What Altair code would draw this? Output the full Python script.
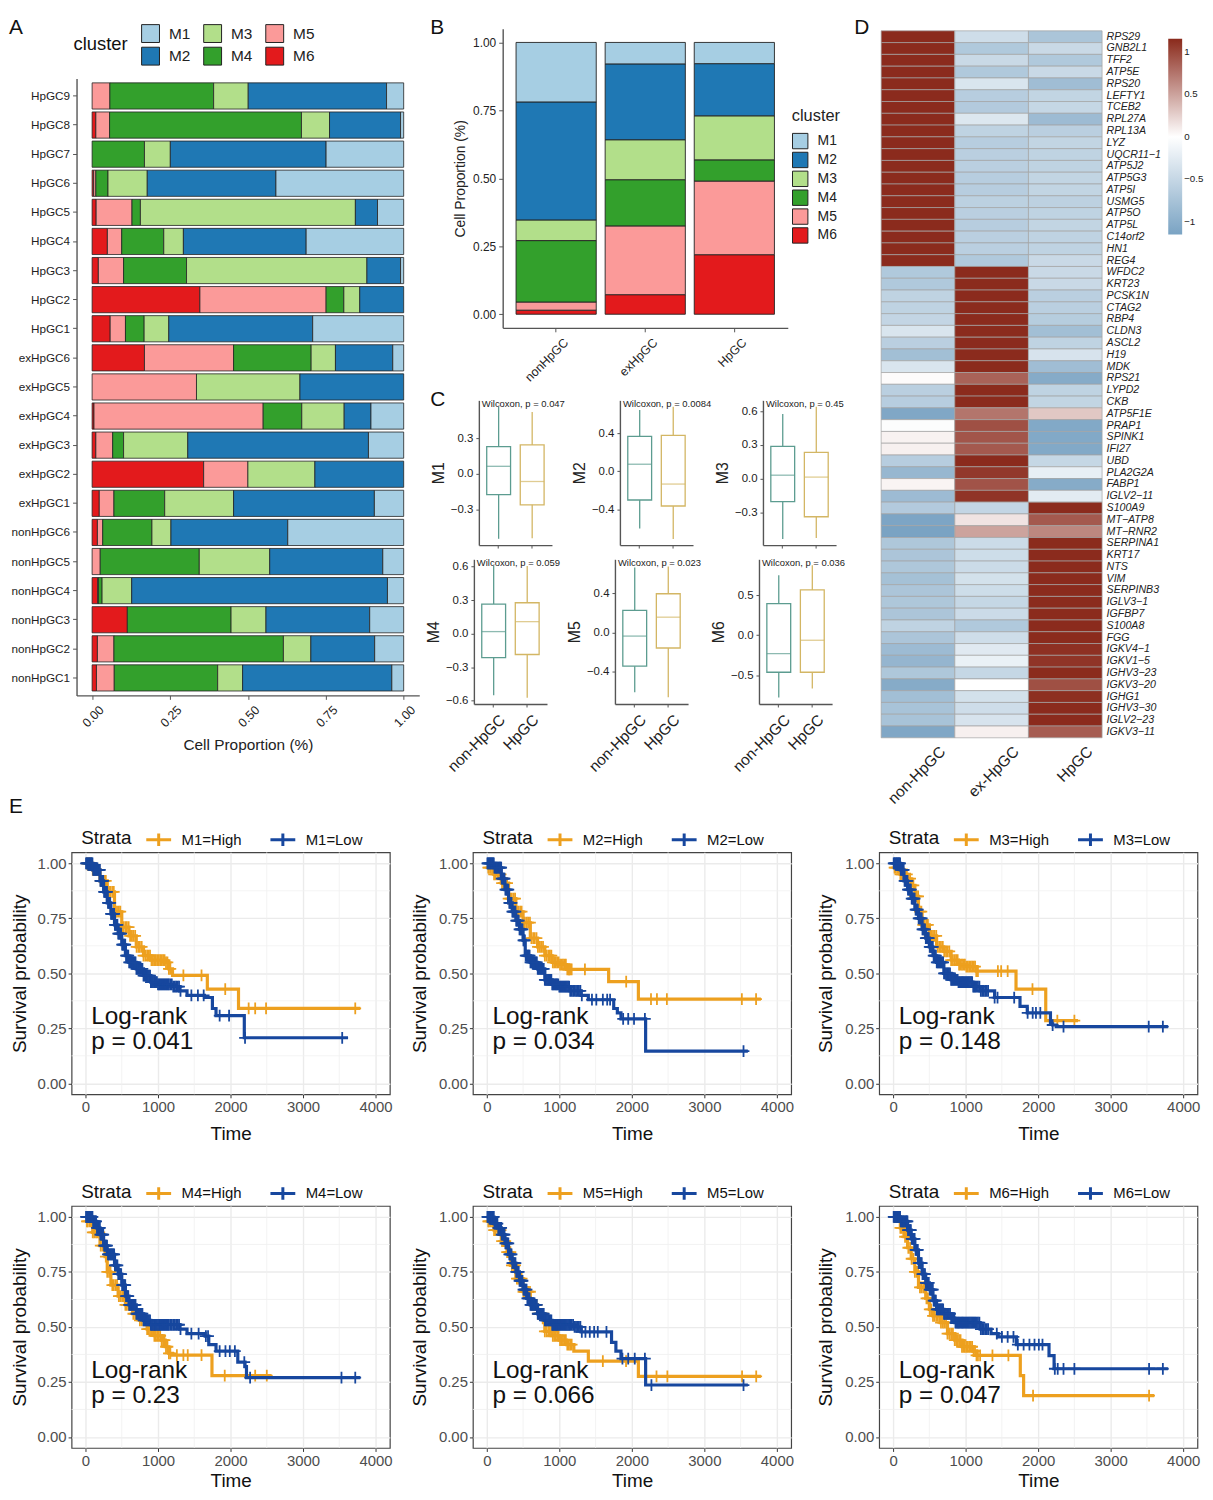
import altair as alt
import pandas as pd

FONT = "Liberation Sans"
CLUSTERS = ["M1", "M2", "M3", "M4", "M5", "M6"]
CLUSTER_COLORS = ["#A6CEE3", "#1F78B4", "#B2DF8A", "#33A02C", "#FB9A99", "#E31A1C"]
STACK_ORDER = ["M6", "M5", "M4", "M3", "M2", "M1"]

# ---------- Panel A: per-sample proportions, listed M6, M5, M4, M3, M2, M1
SAMPLES = ["HpGC9", "HpGC8", "HpGC7", "HpGC6", "HpGC5", "HpGC4", "HpGC3", "HpGC2", "HpGC1",
           "exHpGC6", "exHpGC5", "exHpGC4", "exHpGC3", "exHpGC2", "exHpGC1",
           "nonHpGC6", "nonHpGC5", "nonHpGC4", "nonHpGC3", "nonHpGC2", "nonHpGC1"]
SAMPLE_VALUES = [
    [0, .057, .333, .111, .444, .055],
    [.012, .044, .616, .090, .228, .010],
    [0, 0, .168, .083, .500, .249],
    [.005, .007, .039, .126, .413, .410],
    [.013, .115, .027, .690, .071, .084],
    [.049, .046, .135, .063, .394, .313],
    [.020, .081, .202, .579, .108, .010],
    [.346, .405, .057, .051, .141, 0],
    [.058, .049, .060, .079, .462, .292],
    [.168, .286, .249, .078, .184, .035],
    [0, .335, 0, .332, .333, 0],
    [.006, .543, .124, .136, .086, .105],
    [.012, .054, .035, .206, .580, .113],
    [.358, .142, 0, .215, .285, 0],
    [.023, .047, .163, .221, .452, .094],
    [.017, .017, .158, .061, .375, .372],
    [0, .026, .318, .226, .363, .067],
    [.018, .002, .012, .095, .821, .052],
    [.113, 0, .333, .112, .333, .109],
    [.017, .053, .544, .088, .205, .093],
    [.014, .057, .332, .080, .479, .038],
]

# ---------- Panel B
GROUPS_B = ["nonHpGC", "exHpGC", "HpGC"]
GROUP_VALUES = [
    [.015, .030, .226, .076, .434, .219],
    [.072, .253, .170, .147, .279, .079],
    [.219, .271, .078, .162, .192, .078],
]

# ---------- Panel C: [low, q1, median, q3, high] for non-HpGC and HpGC
BOX_GROUPS = ["non-HpGC", "HpGC"]
BOX_COLORS = ["#5C9C90", "#D3B664"]
BOX_STATS = {
    "M1": [[-.547, -.175, .064, .230, .564], [-.542, -.261, -.064, .244, .522]],
    "M2": [[-.600, -.302, .073, .365, .642], [-.712, -.365, -.135, .375, .677]],
    "M3": [[-.538, -.206, .029, .285, .574], [-.529, -.341, .012, .232, .638]],
    "M4": [[-.552, -.214, .018, .264, .605], [-.573, -.187, .107, .276, .605]],
    "M5": [[-.608, -.343, -.037, .225, .659], [-.659, -.158, .155, .393, .669]],
    "M6": [[-.779, -.4625, -.229, .396, .750], [-.667, -.4625, -.0625, .567, .875]],
}
BOX_P = {"M1": "0.047", "M2": "0.0084", "M3": "0.45", "M4": "0.059", "M5": "0.023", "M6": "0.036"}
BOX_DOMAIN = {"M1": [-.60, .62], "M2": [-.775, .743], "M3": [-.593, .695],
              "M4": [-.63, .665], "M5": [-.727, .743], "M6": [-.86, .95]}
BOX_TICKS = {"M1": [-.3, 0, .3], "M2": [-.4, 0, .4], "M3": [-.3, 0, .3, .6],
             "M4": [-.6, -.3, 0, .3, .6], "M5": [-.4, 0, .4], "M6": [-.5, 0, .5]}

# ---------- Panel D
HEAT_GROUPS = ["non-HpGC", "ex-HpGC", "HpGC"]
GENES = ["RPS29", "GNB2L1", "TFF2", "ATP5E", "RPS20", "LEFTY1", "TCEB2", "RPL27A", "RPL13A", "LYZ",
         "UQCR11−1", "ATP5J2", "ATP5G3", "ATP5I", "USMG5", "ATP5O", "ATP5L", "C14orf2", "HN1", "REG4",
         "WFDC2", "KRT23", "PCSK1N", "CTAG2", "RBP4", "CLDN3", "ASCL2", "H19", "MDK", "RPS21",
         "LYPD2", "CKB", "ATP5F1E", "PRAP1", "SPINK1", "IFI27", "UBD", "PLA2G2A", "FABP1", "IGLV2−11",
         "S100A9", "MT−ATP8", "MT−RNR2", "SERPINA1", "KRT17", "NTS", "VIM", "SERPINB3", "IGLV3−1", "IGFBP7",
         "S100A8", "FGG", "IGKV4−1", "IGKV1−5", "IGHV3−23", "IGKV3−20", "IGHG1", "IGHV3−30", "IGLV2−23", "IGKV3−11"]
HEAT_NON = [1.15] * 20 + [-.68, -.68, -.55, -.55, -.52, -.33, -.60, -.80, -.33, .02,
                          -.60, -.62, -1.10, -.03, .07, .08, -.62, -.90, .06, -.85,
                          -.66, -1.12, -1.15, -.70, -.72, -.70, -.78, -.72, -.70, -.72,
                          -.55, -.72, -.85, -.92, -.70, -1.05, -.80, -.75, -.75, -1.10]
HEAT_EX = [-.42, -.68, -.47, -.68, -.33, -.62, -.66, -.30, -.55, -.62,
           -.60, -.60, -.62, -.62, -.58, -.60, -.62, -.60, -.60, -.68,
           1.15, 1.15, 1.15, 1.15, 1.15, 1.15, 1.15, 1.15, 1.15, .85,
           1.15, 1.15, .75, .95, .92, .90, 1.15, 1.08, .93, 1.10,
           -.52, .15, .50, -.45, -.43, -.45, -.38, -.43, -.50, -.45,
           -.68, -.42, -.27, -.18, -.50, 0, -.38, -.42, -.35, .08]
HEAT_HP = [-.73, -.47, -.68, -.47, -.82, -.53, -.50, -.85, -.60, -.53,
           -.55, -.55, -.53, -.53, -.57, -.55, -.53, -.55, -.55, -.47,
           -.47, -.47, -.60, -.60, -.63, -.80, -.55, -.35, -.82, -1.05,
           -.55, -.53, .30, -1.08, -1.08, -1.08, -.50, -.20, -1.05, -.25,
           1.15, .90, .65, 1.15, 1.15, 1.15, 1.15, 1.15, 1.15, 1.15,
           1.15, 1.15, 1.12, 1.10, 1.15, .95, 1.13, 1.15, 1.15, .88]

# ---------- Panel E: Kaplan-Meier knots
KM = {
    "M1": {
        "p": "0.041",
        "High": ([0, 100, 200, 300, 400, 500, 600, 700, 800, 900, 1100, 1150, 1200, 1680, 2110, 3790],
                 [1, .97, .92, .87, .78, .71, .67, .62, .58, .56, .55, .52, .491, .428, .341, .341],
                 [1350, 1600, 1927, 2250, 2340, 2490, 3720]),
        "Low": ([0, 100, 200, 250, 300, 350, 400, 450, 500, 550, 600, 700, 800, 900, 1000, 1200, 1300, 1400, 1640, 1750, 1800, 2190, 3620],
                [1, .97, .92, .87, .82, .77, .72, .68, .63, .58, .55, .52, .49, .46, .45, .44, .42, .40, .39, .34, .308, .207, .207],
                [1460, 1550, 1630, 1850, 1980, 2200, 3540]),
    },
    "M2": {
        "p": "0.034",
        "High": ([0, 100, 200, 300, 400, 500, 600, 700, 800, 900, 1000, 1100, 1680, 2090, 3780],
                 [.98, .95, .91, .84, .78, .73, .66, .62, .58, .55, .54, .518, .462, .383, .383],
                 [1134, 1353, 1922, 2264, 2346, 2483, 3517, 3713]),
        "Low": ([0, 100, 200, 250, 300, 350, 400, 450, 500, 530, 600, 700, 800, 900, 1000, 1150, 1300, 1400, 1750, 1800, 1850, 2190, 3600],
                [1, .98, .93, .88, .82, .78, .74, .70, .65, .58, .55, .52, .47, .45, .44, .42, .40, .38, .34, .32, .293, .146, .146],
                [1450, 1510, 1600, 1660, 1700, 1880, 1950, 2030, 2180, 3540]),
    },
    "M3": {
        "p": "0.148",
        "High": ([0, 100, 200, 250, 300, 350, 400, 500, 600, 700, 800, 900, 1000, 1150, 1695, 2105, 2550],
                 [.98, .95, .93, .90, .85, .78, .72, .67, .62, .60, .56, .54, .53, .51, .428, .285, .285],
                 [1150, 1445, 1490, 1580, 1922, 2265, 2500]),
        "Low": ([0, 100, 150, 200, 250, 300, 350, 400, 450, 500, 550, 600, 700, 800, 900, 1100, 1200, 1400, 1750, 1850, 2170, 2200, 2250, 3790],
                [1, .97, .92, .88, .84, .79, .75, .70, .66, .62, .58, .55, .50, .47, .46, .44, .42, .39, .35, .32, .27, .265, .258, .258],
                [1400, 1440, 1670, 1855, 1925, 1970, 2030, 2200, 2350, 3525, 3720]),
    },
    "M4": {
        "p": "0.23",
        "High": ([0, 100, 200, 270, 300, 350, 450, 550, 650, 750, 850, 950, 1050, 1100, 1150, 1200, 1744, 2566],
                 [.98, .93, .87, .82, .75, .69, .64, .60, .56, .53, .49, .46, .44, .41, .38, .372, .279, .279],
                 [1260, 1350, 1410, 1600, 1920, 2340, 2500]),
        "Low": ([0, 100, 150, 200, 250, 300, 400, 450, 500, 550, 600, 700, 800, 900, 1300, 1400, 1650, 1700, 1800, 2100, 2200, 2220, 3790],
                [1, .98, .95, .92, .87, .83, .78, .74, .69, .64, .60, .56, .53, .51, .49, .47, .458, .42, .39, .34, .32, .27, .27],
                [1460, 1560, 1660, 1690, 1850, 1930, 1990, 2060, 2190, 2270, 3530, 3720]),
    },
    "M5": {
        "p": "0.066",
        "High": ([0, 100, 200, 280, 330, 400, 500, 600, 700, 780, 800, 900, 1000, 1100, 1200, 1400, 2090, 3780],
                 [.98, .94, .89, .84, .78, .72, .66, .60, .56, .52, .48, .46, .44, .42, .39, .345, .275, .275],
                 [1600, 1920, 2340, 2490, 3520, 3715]),
        "Low": ([0, 100, 150, 200, 250, 300, 350, 400, 450, 500, 550, 600, 700, 800, 900, 1200, 1300, 1720, 1780, 1850, 2190, 3600],
                [1, .97, .95, .92, .88, .83, .79, .75, .71, .67, .63, .60, .56, .53, .51, .50, .478, .43, .39, .356, .236, .236],
                [1360, 1420, 1480, 1530, 1650, 1870, 1950, 2040, 2180, 2270, 3540]),
    },
    "M6": {
        "p": "0.047",
        "High": ([0, 100, 150, 200, 250, 300, 350, 450, 500, 550, 650, 750, 850, 950, 1100, 1150, 1754, 1800, 3600],
                 [1, .95, .91, .86, .81, .75, .68, .63, .58, .55, .52, .47, .44, .41, .39, .371, .279, .188, .188],
                 [1200, 1370, 1590, 1930, 3530]),
        "Low": ([0, 100, 200, 250, 300, 350, 400, 450, 500, 550, 600, 700, 800, 850, 1200, 1350, 1450, 1700, 2150, 2220, 3790],
                [1, .98, .94, .90, .85, .79, .74, .70, .67, .62, .58, .56, .54, .52, .49, .47, .455, .42, .37, .31, .31],
                [1430, 1500, 1580, 1660, 1720, 1800, 1880, 1950, 2010, 2060, 2230, 2270, 2350, 2500, 3530, 3720]),
    },
}
CENSOR_EARLY_HIGH = [20, 30, 55, 75, 100, 120, 145, 165, 190, 210, 235, 255, 280, 300, 325, 345, 370, 390, 415, 435,
                     460, 480, 505, 525, 550, 570, 595, 615, 640, 660, 685, 705, 730, 750, 775,
                     800, 825, 850, 870, 890, 910, 930, 950, 970, 990, 1010, 1030, 1050, 1070, 1090, 1110, 1130, 1150, 1170]
CENSOR_EARLY_LOW = [8, 15, 25, 35, 44, 52, 61, 70, 79, 88, 96, 105, 116, 128, 137, 146, 158, 170, 180, 190, 198, 205,
                    216, 228, 236, 245, 256, 268, 276, 285, 297, 310, 320, 330, 341, 352, 362,
                    372, 383, 395, 405, 415, 427, 440, 451, 462, 471, 480, 492, 505, 515, 525, 536, 548, 559, 570,
                    580, 590, 602, 615, 627, 640, 652, 665, 677, 690, 702, 715, 730, 745, 757,
                    770, 785, 800, 815, 830, 845, 860, 875, 890, 902, 915, 930, 945, 957, 970, 985, 1000, 1015, 1030,
                    1045, 1060, 1075, 1090, 1105, 1120, 1135, 1150, 1170, 1190, 1210, 1230, 1250, 1270, 1290, 1310]
MINOR_T = [500, 1500, 2500, 3500]
MINOR_S = [.125, .375, .625, .875]
KM_LABEL_T = 78
KM_LABEL_S = [.30, .188]
STRATA_COLORS = ["#EDA01F", "#17479E"]

INK = "#222222"
AXIS_GREY = "#555555"


def spacer(w, h):
    return alt.Chart(pd.DataFrame({"v": [0]})).mark_point(size=0, opacity=0).encode(
        x=alt.value(0), y=alt.value(0)).properties(width=w, height=h)


def caption(s, size=21):
    return alt.Chart(pd.DataFrame({"txt": [s]})).mark_text(
        align="left", baseline="alphabetic", fontSize=size, color="#111111").encode(
        x=alt.value(0), y=alt.value(0), text="txt:N").properties(width=10, height=1)


# ---------- A
rows = []
for s, vals in zip(SAMPLES, SAMPLE_VALUES):
    for i, (cl, v) in enumerate(zip(STACK_ORDER, vals)):
        if v > 0:
            rows.append({"sample": s, "cluster": cl, "value": v, "idx": i})
panel_a = alt.Chart(pd.DataFrame(rows)).mark_bar(stroke=INK, strokeWidth=0.8).encode(
    y=alt.Y("sample:N", sort=SAMPLES, title=None,
            scale=alt.Scale(domain=SAMPLES, paddingInner=0.1, paddingOuter=0.15),
            axis=alt.Axis(labelFontSize=11.8, labelColor=INK, tickSize=4, labelPadding=3, tickColor=AXIS_GREY,
                          domainColor=AXIS_GREY, domainWidth=1.4, grid=False)),
    x=alt.X("value:Q", stack="zero", title="Cell Proportion (%)",
            scale=alt.Scale(domain=[-0.05, 1.05], nice=False, zero=False),
            axis=alt.Axis(values=[0, .25, .5, .75, 1], format=".2f", labelAngle=-45, labelFontSize=12.5, labelColor=INK,
                          labelOffset=5, labelPadding=4, tickSize=4, tickColor=AXIS_GREY, domainColor=AXIS_GREY, domainWidth=1.4,
                          grid=False, titleFontSize=15.5, titleFontWeight="normal", titleColor=INK, titlePadding=8, labelFlush=False)),
    color=alt.Color("cluster:N", scale=alt.Scale(domain=CLUSTERS, range=CLUSTER_COLORS),
                    legend=alt.Legend(symbolType="square", symbolStrokeColor=INK, symbolStrokeWidth=1, symbolOpacity=1,
                                      orient="none", title=None, legendX=65, legendY=-55, direction="vertical", columns=3,
                                      labelFontSize=15.5, labelColor=INK, labelOffset=9, symbolSize=324,
                                      columnPadding=10.5, rowPadding=0)),
    order=alt.Order("idx:Q"),
).properties(width=345, height=621)

# ---------- B
rows = []
for g, vals in zip(GROUPS_B, GROUP_VALUES):
    for i, (cl, v) in enumerate(zip(STACK_ORDER, vals)):
        rows.append({"group": g, "cluster": cl, "value": v, "idx": i})
panel_b = alt.Chart(pd.DataFrame(rows)).mark_bar(stroke=INK, strokeWidth=0.9).encode(
    x=alt.X("group:N", sort=GROUPS_B, title=None,
            scale=alt.Scale(domain=GROUPS_B, paddingInner=0.1, paddingOuter=0.15),
            axis=alt.Axis(labelAngle=-45, labelFontSize=12.5, labelColor=INK, labelOffset=6, labelPadding=4, tickSize=4,
                          tickColor=AXIS_GREY, domainColor=AXIS_GREY, domainWidth=1.4, grid=False)),
    y=alt.Y("value:Q", stack="zero", title="Cell Proportion (%)",
            scale=alt.Scale(domain=[-0.05, 1.05], nice=False, zero=False),
            axis=alt.Axis(values=[0, .25, .5, .75, 1], format=".2f", labelFontSize=12, labelColor=INK, tickSize=4, labelPadding=3,
                          tickColor=AXIS_GREY, domainColor=AXIS_GREY, domainWidth=1.4, grid=False,
                          titleFontSize=14, titleFontWeight="normal", titleColor=INK, titlePadding=5)),
    color=alt.Color("cluster:N", scale=alt.Scale(domain=CLUSTERS, range=CLUSTER_COLORS),
                    legend=alt.Legend(symbolType="square", symbolStrokeColor=INK, symbolStrokeWidth=1, symbolOpacity=1,
                                      orient="none", title="cluster", legendX=291, legendY=80, direction="vertical",
                                      titleFontSize=16.5, titleFontWeight="normal", titleColor=INK, titlePadding=8,
                                      labelFontSize=14, labelColor=INK, labelOffset=9, symbolSize=240, rowPadding=-2)),
    order=alt.Order("idx:Q"),
).properties(width=287, height=301)


# ---------- C
def box_panel(m, show_labels):
    rows = []
    for g, s in zip(BOX_GROUPS, BOX_STATS[m]):
        rows.append(dict(group=g, low=s[0], q1=s[1], med=s[2], q3=s[3], high=s[4]))
    base = alt.Chart(pd.DataFrame(rows))
    x_scale = alt.Scale(domain=BOX_GROUPS, paddingInner=0.3, paddingOuter=0.24)
    y_scale = alt.Scale(domain=BOX_DOMAIN[m], nice=False, zero=False)
    col = alt.Color("group:N", scale=alt.Scale(domain=BOX_GROUPS, range=BOX_COLORS), legend=None)
    x_axis = alt.Axis(labelAngle=-45, labelFontSize=15.5, labelColor=INK, labelOffset=4, labelPadding=5, labels=show_labels,
                      tickSize=3, tickColor=AXIS_GREY, domainColor=AXIS_GREY, domainWidth=1.4, grid=False)
    y_axis = alt.Axis(values=BOX_TICKS[m], format=".1f", labelFontSize=11.5, labelColor=INK, tickSize=3, labelPadding=3,
                      tickColor=AXIS_GREY, domainColor=AXIS_GREY, domainWidth=1.4, grid=False,
                      titleFontSize=16, titleFontWeight="normal", titleColor=INK, titlePadding=4)
    xx = alt.X("group:N", sort=BOX_GROUPS, scale=x_scale, axis=x_axis, title=None)
    whisk = base.mark_rule(strokeWidth=1.3).encode(
        x=xx, y=alt.Y("low:Q", scale=y_scale, axis=y_axis, title=m), y2="high:Q", color=col)
    box = base.mark_bar(size=24, fill="white", strokeWidth=1.3).encode(
        x=xx, y=alt.Y("q1:Q", scale=y_scale, axis=y_axis, title=m), y2="q3:Q",
        stroke=alt.Stroke("group:N", scale=alt.Scale(domain=BOX_GROUPS, range=BOX_COLORS), legend=None))
    med = base.mark_tick(size=24, thickness=1.3).encode(
        x=xx, y=alt.Y("med:Q", scale=y_scale, axis=y_axis, title=m), color=col)
    title = alt.TitleParams(text=f"Wilcoxon, p = {BOX_P[m]}", anchor="start", frame="group", fontSize=9.5, fontWeight="normal",
                            color=INK, offset=-8, dx=3, font=FONT)
    return alt.layer(whisk, box, med).properties(width=73.6, height=145.7, title=title)


# ---------- D
rows = []
for i, g in enumerate(GENES):
    for col_name, vals in zip(HEAT_GROUPS, [HEAT_NON, HEAT_EX, HEAT_HP]):
        rows.append({"gene": g, "group": col_name, "value": vals[i]})
panel_d = alt.Chart(pd.DataFrame(rows)).mark_rect(stroke="#A3A3A3", strokeWidth=0.7).encode(
    x=alt.X("group:N", sort=HEAT_GROUPS, title=None, scale=alt.Scale(domain=HEAT_GROUPS),
            axis=alt.Axis(labelAngle=-45, labelFontSize=15.5, labelColor=INK, labelOffset=20, labelPadding=6, ticks=False, domain=False, grid=False)),
    y=alt.Y("gene:N", sort=GENES, title=None, scale=alt.Scale(domain=GENES),
            axis=alt.Axis(orient="right", labelFontSize=10.7, labelFontStyle="italic", labelColor=INK, ticks=False, domain=False, labelPadding=4, grid=False)),
    color=alt.Color("value:Q", scale=alt.Scale(domain=[-1.15, 0, 1.155], range=["#7AA3C3", "#FFFFFF", "#8A2A1C"], interpolate="rgb"),
                    legend=alt.Legend(orient="none", legendX=289, legendY=8, type="gradient", title=None,
                                      gradientLength=197, gradientThickness=14, values=[-1, -.5, 0, .5, 1], format=".1~f",
                                      labelFontSize=9.8, labelColor=INK, tickCount=5, gradientStrokeWidth=0, labelOffset=2)),
).properties(width=222.4, height=711.7)


# ---------- E
def km_at(ts, ss, t):
    val = ss[0]
    for a, b in zip(ts, ss):
        if a <= t:
            val = b
    return val


def km_panel(m, title_padding=9, time_padding=10):
    info = KM[m]
    names = [f"{m}=High", f"{m}=Low"]
    sx = alt.Scale(domain=[-192, 4197], nice=False, zero=False)
    sy = alt.Scale(domain=[-0.05, 1.05], nice=False, zero=False)
    color_scale = alt.Scale(domain=names, range=STRATA_COLORS)
    x_axis = alt.Axis(values=[0, 1000, 2000, 3000, 4000], format="d", labelFontSize=15, labelColor="#4D4D4D",
                      tickSize=3.5, tickColor="#333333", domain=False, gridColor="#EBEBEB", gridWidth=1.4, grid=True,
                      labelPadding=2, titleFontSize=19, titleFontWeight="normal", titleColor="#111111", titlePadding=time_padding)
    y_axis = alt.Axis(values=[0, .25, .5, .75, 1], format=".2f", labelFontSize=15, labelColor="#4D4D4D",
                      tickSize=3.5, tickColor="#333333", domain=False, gridColor="#EBEBEB", gridWidth=1.4, grid=True,
                      labelPadding=2, titleFontSize=19, titleFontWeight="normal", titleColor="#111111", titlePadding=title_padding)
    xx = alt.X("t:Q", scale=sx, axis=x_axis, title="Time")
    yy = alt.Y("s:Q", scale=sy, axis=y_axis, title="Survival probability")
    layers = [
        alt.Chart(pd.DataFrame({"t": MINOR_T})).mark_rule(color="#F0F0F0", strokeWidth=0.8).encode(x=xx),
        alt.Chart(pd.DataFrame({"s": MINOR_S})).mark_rule(color="#F0F0F0", strokeWidth=0.8).encode(y=yy),
    ]
    for k, (key, name, early) in enumerate(zip(["High", "Low"], names, [CENSOR_EARLY_HIGH, CENSOR_EARLY_LOW])):
        ts, ss, tail = info[key]
        line_df = pd.DataFrame({"t": ts, "s": ss, "strata": name})
        cens_t = [t for t in early + tail if t <= ts[-1]]
        cens_df = pd.DataFrame({"t": cens_t, "s": [km_at(ts, ss, t) for t in cens_t], "strata": name})
        if k == 0:
            legend = alt.Legend(orient="none", legendX=9.7, legendY=-27, direction="horizontal", title="Strata", titleOrient="left",
                                titleFontSize=19, titleFontWeight="normal", titleColor="#111111", titlePadding=13,
                                labelFontSize=15, labelColor="#111111", labelOffset=9, columnPadding=22,
                                symbolType="M-1,0H1M0,-0.5V0.5", symbolSize=625, symbolStrokeWidth=3)
        else:
            legend = None
        layers.append(alt.Chart(line_df).mark_line(interpolate="step-after", strokeWidth=3.2).encode(
            x=xx, y=yy, color=alt.Color("strata:N", scale=color_scale, legend=legend)))
        layers.append(alt.Chart(cens_df).mark_point(shape="M0,-1V1M-1,0H1", size=140, strokeWidth=1.8, filled=False, opacity=1).encode(
            x=xx, y=yy, color=alt.Color("strata:N", scale=color_scale, legend=None)))
    label_df = pd.DataFrame({"t": [KM_LABEL_T, KM_LABEL_T], "s": KM_LABEL_S, "txt": ["Log-rank", f"p = {info['p']}"]})
    layers.append(alt.Chart(label_df).mark_text(align="left", baseline="middle", fontSize=24.5, color="#111111").encode(
        x=xx, y=yy, text="txt:N"))
    return alt.layer(*layers).properties(width=320.4, height=243.6, view=alt.ViewBackground(stroke="#444444", strokeWidth=1.2))


# ---------- placement, in picture pixels: (left, top, width, height, chart)
placed = [
    (8, 28, 10, 1, caption("A")),
    (431, 28, 10, 1, caption("B")),
    (431, 403, 10, 1, caption("C")),
    (853, 28, 10, 1, caption("D")),
    (8, 812, 10, 1, caption("E")),
    (72, 44, 10, 1, caption("cluster", 18.5)),
    (75, 73, 345, 621, panel_a),
    (502, 22.5, 287, 301, panel_b),
    (478.3, 397, 73.6, 145.7, box_panel("M1", False)),
    (619, 397, 73.6, 145.7, box_panel("M2", False)),
    (761.7, 397, 73.6, 145.7, box_panel("M3", False)),
    (474, 556.7, 73.6, 145.7, box_panel("M4", True)),
    (614.3, 556.7, 73.6, 145.7, box_panel("M5", True)),
    (758.3, 556.7, 73.6, 145.7, box_panel("M6", True)),
    (879.3, 25, 222.4, 711.7, panel_d),
    (70.3, 851.7, 320.4, 243.6, km_panel("M1", 8, 10)),
    (473.7, 851.7, 320.4, 243.6, km_panel("M2", 9, 10)),
    (877.3, 851.7, 320.4, 243.6, km_panel("M3", 9, 10)),
    (70.3, 1206.7, 320.4, 243.6, km_panel("M4", 8, 3)),
    (473.7, 1206.7, 320.4, 243.6, km_panel("M5", 9, 3)),
    (877.3, 1206.7, 320.4, 243.6, km_panel("M6", 9, 3)),
]
ORIGIN_X, ORIGIN_Y = 8, 8

columns = {}
for item in placed:
    columns.setdefault(item[0], []).append(item)

top_items = []
cursor_x = ORIGIN_X
for x in sorted(columns):
    if x - cursor_x > 0:
        top_items.append(spacer(round(x - cursor_x, 2), 1))
    cursor_x = x
    stack = []
    cursor_y = ORIGIN_Y
    for _, y, w, h, ch in sorted(columns[x], key=lambda it: it[1]):
        if y - cursor_y > 0:
            stack.append(spacer(1, round(y - cursor_y, 2)))
        stack.append(ch)
        cursor_y = y + h
    top_items.append(alt.vconcat(*stack, spacing=0, bounds="flush").resolve_scale(color="independent", stroke="independent"))

chart = alt.hconcat(*top_items, spacing=0, bounds="flush", padding=0).resolve_scale(color="independent", stroke="independent").configure(
    font=FONT, background="white"
).configure_view(stroke="transparent")

chart.save("out.html", embed_options={"renderer": "svg", "actions": False})
